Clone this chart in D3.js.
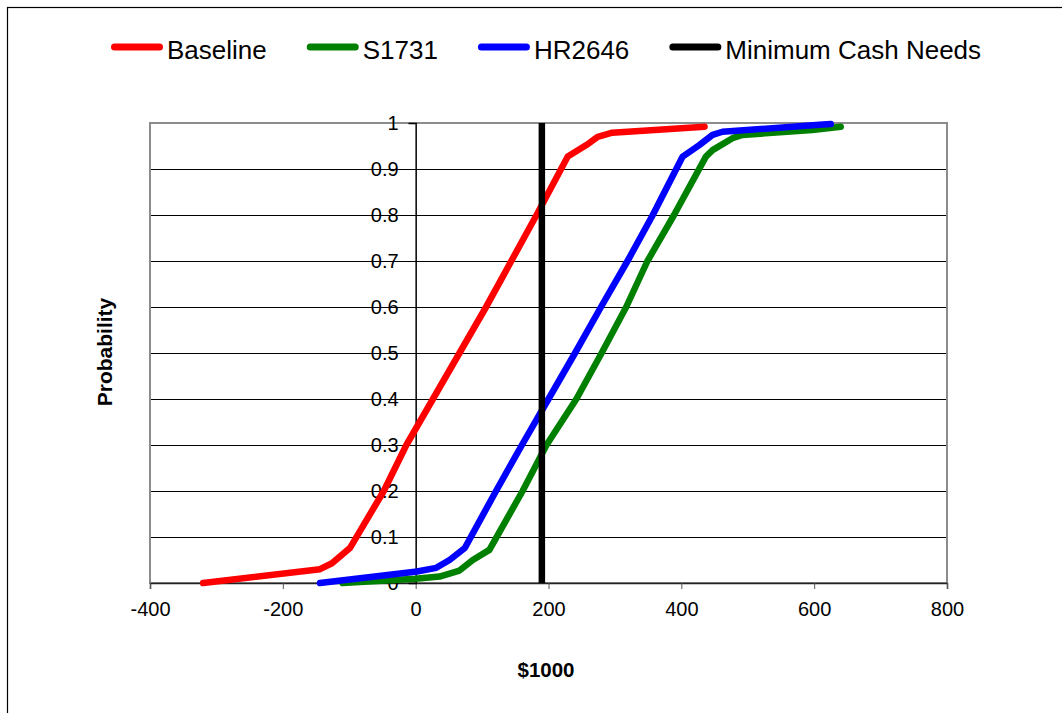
<!DOCTYPE html>
<html>
<head>
<meta charset="utf-8">
<script src="https://cdn.jsdelivr.net/npm/d3@7"></script>
<style>
  body { margin: 0; background: #fff; }
  svg { display: block; font-family: "Liberation Sans", Arial, sans-serif; }
</style>
</head>
<body>
<svg id="svg" width="1062" height="713"></svg>
<script>
// values (x in $1000, cumulative probability)
const baselineX = [-320, -144, -126, -99, -48, -14, 26, 66, 106, 144, 182, 229, 257, 274, 296, 435];
const baselineP = [0, 0.03, 0.043, 0.076, 0.2, 0.3, 0.4, 0.5, 0.6, 0.7, 0.8, 0.927, 0.952, 0.97, 0.979, 0.992];

const s1731X = [-110, 0, 36, 66, 86, 111, 161, 197, 242, 280, 317, 349, 389, 437, 447, 477, 492, 597, 640];
const s1731P = [0, 0.009, 0.014, 0.027, 0.05, 0.072, 0.2, 0.3, 0.4, 0.5, 0.6, 0.7, 0.8, 0.927, 0.941, 0.967, 0.974, 0.985, 0.992];

const hr2646X = [-144, 2, 31, 51, 74, 121, 160, 200, 240, 279, 319, 357, 402, 427, 447, 462, 608, 625];
const hr2646P = [0, 0.025, 0.033, 0.05, 0.076, 0.2, 0.3, 0.4, 0.5, 0.6, 0.7, 0.8, 0.927, 0.952, 0.974, 0.981, 0.996, 0.998];

const cashNeedsX = [190, 190];
const cashNeedsP = [0, 1];

const seriesNames = ["Baseline", "S1731", "HR2646", "Minimum Cash Needs"];
const seriesColors = ["#ff0000", "#008000", "#0000ff", "#000000"];

const xTicks = [-400, -200, 0, 200, 400, 600, 800];
const yTicks = [0, 0.1, 0.2, 0.3, 0.4, 0.5, 0.6, 0.7, 0.8, 0.9, 1];

function zip(xs, ps) {
  return xs.map((v, i) => ({ value: v, p: ps[i] }));
}

let series = [
  zip(baselineX, baselineP),
  zip(s1731X, s1731P),
  zip(hr2646X, hr2646P),
  zip(cashNeedsX, cashNeedsP)
];

let svg = d3.select("svg");
let plot = { left: 150, right: 947, top: 123, bottom: 583 };

// outer chart frame (runs off the right/bottom edge, like the picture)
svg.append("rect")
  .attr("x", 7.5).attr("y", 7.5)
  .attr("width", 1200).attr("height", 900)
  .attr("fill", "none")
  .attr("stroke", "#000")
  .attr("stroke-width", 1.2);

let x = d3.scaleLinear().domain([-400, 800]).range([plot.left, plot.right]);
let y = d3.scaleLinear().domain([0, 1]).range([plot.bottom, plot.top]);

// gridlines
svg.append("g")
  .attr("transform", "translate(" + plot.left + ",0)")
  .call(d3.axisLeft(y).tickValues(yTicks.filter(t => t > 0 && t < 1))
    .tickSize(-(plot.right - plot.left)).tickFormat(""))
  .call(g => g.select(".domain").remove())
  .selectAll("line").attr("stroke", "#000").attr("stroke-width", 1);

// plot area border
svg.append("rect")
  .attr("x", plot.left).attr("y", plot.top)
  .attr("width", plot.right - plot.left).attr("height", plot.bottom - plot.top)
  .attr("fill", "none")
  .attr("stroke", "#8c8c8c")
  .attr("stroke-width", 2);

// x axis (plain hyphen for negatives, like the picture)
let xAxis = svg.append("g")
  .attr("transform", "translate(0," + plot.bottom + ")")
  .call(d3.axisBottom(x).tickValues(xTicks).tickSize(6).tickPadding(13).tickFormat(d => String(d)));
xAxis.select(".domain").attr("stroke", "#222").attr("stroke-width", 1.5);
xAxis.selectAll("line").attr("stroke", "#555");
xAxis.selectAll("text")
  .attr("font-size", 20)
  .attr("font-family", "Liberation Sans, Arial, sans-serif")
  .attr("fill", "#000");

// y axis sits on x = 0
let yAxis = svg.append("g")
  .attr("transform", "translate(" + x(0) + ",0)")
  .call(d3.axisLeft(y).tickValues(yTicks).tickSize(7).tickPadding(10)
    .tickFormat(d => String(+d.toFixed(1))));
yAxis.select(".domain").attr("stroke", "#000").attr("stroke-width", 1.5);
yAxis.selectAll("line").attr("stroke", "#000");
yAxis.selectAll("text")
  .attr("font-size", 20)
  .attr("font-family", "Liberation Sans, Arial, sans-serif")
  .attr("fill", "#000");

// series
let line = d3.line()
  .x(d => x(d.value))
  .y(d => y(d.p));

series.forEach((data, i) => {
  svg.append("path")
    .datum(data)
    .attr("fill", "none")
    .attr("stroke", seriesColors[i])
    .attr("stroke-width", 6.5)
    .attr("stroke-linejoin", "round")
    .attr("stroke-linecap", i == 3 ? "butt" : "round")
    .attr("d", line);
});

// axis titles
svg.append("text")
  .attr("x", 546).attr("y", 677)
  .attr("text-anchor", "middle")
  .attr("font-size", 20.5)
  .attr("font-weight", "bold")
  .text("$1000");

svg.append("text")
  .attr("transform", "translate(112,352) rotate(-90)")
  .attr("text-anchor", "middle")
  .attr("font-size", 21)
  .attr("font-weight", "bold")
  .text("Probability");

// legend, flowed left to right
let lx = 111;
seriesNames.forEach((name, i) => {
  let item = svg.append("g");
  item.append("line")
    .attr("x1", lx + 3.5).attr("x2", lx + 48.5)
    .attr("y1", 47).attr("y2", 47)
    .attr("stroke", seriesColors[i])
    .attr("stroke-width", 7)
    .attr("stroke-linecap", "round");
  let t = item.append("text")
    .attr("x", lx + 56).attr("y", 58.5)
    .attr("font-size", 26)
    .text(name);
  lx += 56 + t.node().getComputedTextLength() + 40;
});
</script>
</body>
</html>
